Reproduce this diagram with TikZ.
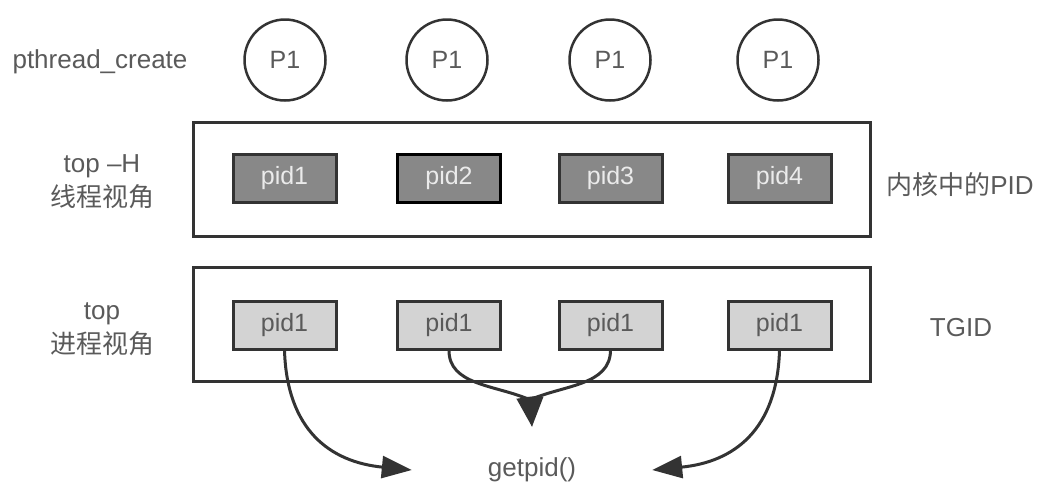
\documentclass[tikz,border=0pt]{standalone}
\usepackage{fontspec}
\setmainfont{Liberation Sans}
\newfontfamily\cjk{Noto Sans CJK SC}
\usetikzlibrary{arrows.meta}
\definecolor{txt}{HTML}{5A5A5A}
\definecolor{edge}{HTML}{333333}
\definecolor{darkfill}{HTML}{888888}
\definecolor{lightfill}{HTML}{D3D3D3}
\tikzset{
  lbl/.style={text=txt, font=\fontsize{26}{34}\selectfont, align=center, inner sep=0pt},
  thread/.style={circle, draw=edge, line width=2.5pt, minimum size=81pt, inner sep=0pt, text=txt, font=\fontsize{25}{30}\selectfont},
  frame/.style={draw=edge, line width=3pt, minimum width=677pt, minimum height=114pt, inner sep=0pt},
  kpid/.style={draw=edge, line width=3pt, fill=darkfill, minimum width=103pt, minimum height=48pt, inner sep=0pt, text=white!92!black, font=\fontsize{25}{30}\selectfont},
  tpid/.style={draw=edge, line width=3pt, fill=lightfill, minimum width=103pt, minimum height=48pt, inner sep=0pt, text=txt, font=\fontsize{25}{30}\selectfont},
  flow/.style={draw=edge, line width=3pt, line join=round, -{Triangle[length=30pt,width=22pt]}},
}
\begin{document}
\begin{tikzpicture}[x=1pt,y=-1pt]
\useasboundingbox (0,0) rectangle (1040,496);
% left labels
\node[lbl] (pc) at (100,62) {pthread\_create};
\node[lbl] (th) at (102,182) {top –H\\{\cjk 线程视角}};
\node[lbl] (pr) at (102,329) {top\\{\cjk 进程视角}};
% right labels
\node[lbl] (kp) at (960,185) {{\cjk 内核中的}PID};
\node[lbl] (tg) at (961,328) {TGID};
% threads
\node[thread] (c1) at (285,60) {P1};
\node[thread] (c2) at (447,60) {P1};
\node[thread] (c3) at (610,60) {P1};
\node[thread] (c4) at (778,60) {P1};
% frames
\node[frame] (f1) at (531.5,179) {};
\node[frame] (f2) at (531.5,324.5) {};
% kernel pids
\node[kpid] (k1) at (284.5,178.5) {pid1};
\node[kpid, draw=black, line width=3.5pt] (k2) at (449,178.5) {pid2};
\node[kpid] (k3) at (610.5,178.5) {pid3};
\node[kpid] (k4) at (779.5,178.5) {pid4};
% tgid pids
\node[tpid] (t1) at (284.5,325) {pid1};
\node[tpid] (t2) at (449,325) {pid1};
\node[tpid] (t3) at (610.5,325) {pid1};
\node[tpid] (t4) at (779.5,325) {pid1};
% getpid
\node[lbl, minimum width=240pt, minimum height=86pt] (gp) at (532,470) {getpid()};
% arrows
\draw[flow] (t1.south) .. controls (287,430) and (330,462) .. (gp.west);
\draw[flow] (t2.south) .. controls (449,385) and (495,385) .. (528,399) -- (gp.north);
\draw[flow] (t3.south) .. controls (610,385) and (565,385) .. (532,399) -- (gp.north);
\draw[flow] (t4.south) .. controls (777,430) and (734,462) .. (gp.east);
\end{tikzpicture}
\end{document}
